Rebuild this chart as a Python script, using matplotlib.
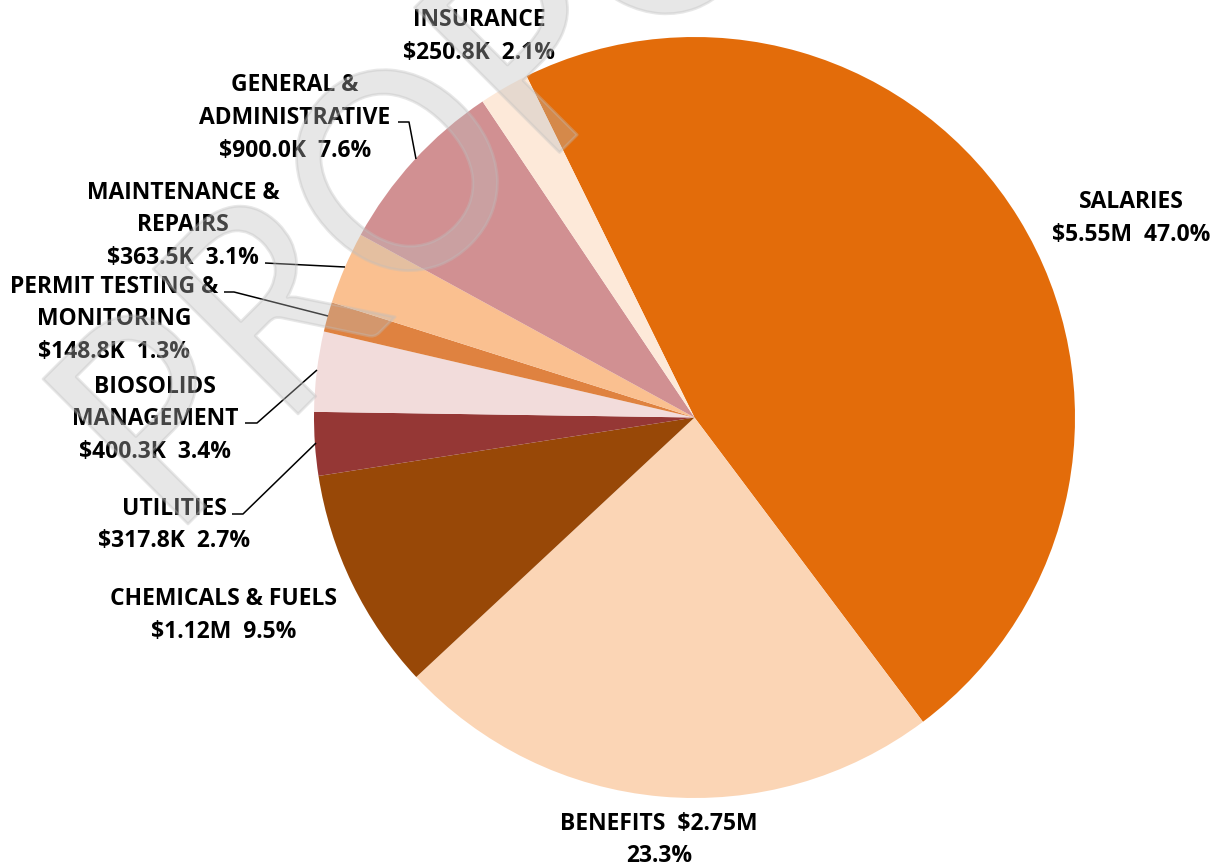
import matplotlib
matplotlib.use("Agg")
import matplotlib.pyplot as plt
from matplotlib import font_manager as fm
from matplotlib.textpath import TextPath
from matplotlib.patches import PathPatch
from matplotlib.font_manager import FontProperties
from matplotlib.transforms import Affine2D

# ---------------- data ----------------
categories = ["SALARIES", "BENEFITS", "CHEMICALS & FUELS", "UTILITIES",
              "BIOSOLIDS MANAGEMENT", "PERMIT TESTING & MONITORING",
              "MAINTENANCE & REPAIRS", "GENERAL & ADMINISTRATIVE", "INSURANCE"]
values_k = [5550.0, 2750.0, 1120.0, 317.8, 400.3, 148.8, 363.5, 900.0, 250.8]
amount_labels = ["$5.55M", "$2.75M", "$1.12M", "$317.8K", "$400.3K",
                 "$148.8K", "$363.5K", "$900.0K", "$250.8K"]
pct_labels = ["47.0%", "23.3%", "9.5%", "2.7%", "3.4%", "1.3%", "3.1%", "7.6%", "2.1%"]

# display wrapping of each label
label_texts = [
    "SALARIES\n{a}  {p}",
    "BENEFITS  {a}\n{p}",
    "CHEMICALS & FUELS\n{a}  {p}",
    "UTILITIES\n{a}  {p}",
    "BIOSOLIDS\nMANAGEMENT\n{a}  {p}",
    "PERMIT TESTING &\nMONITORING\n{a}  {p}",
    "MAINTENANCE &\nREPAIRS\n{a}  {p}",
    "GENERAL &\nADMINISTRATIVE\n{a}  {p}",
    "INSURANCE\n{a}  {p}",
]

colors = ["#E36C0A", "#FBD5B5", "#984807", "#953735", "#F2DCDB",
          "#DF8240", "#FAC090", "#D19092", "#FDE9D9"]

watermark = "PROPOSED"

# label anchor: x centre, y of first line centre (pixels from top)
label_pos = [(1131.5, 200), (659, 821.5), (224, 597), (174.5, 506.5),
             (155, 384.5), (114, 284.5), (183, 190.5), (295, 83), (479, 18)]
line_step = 32.7

# leader lines (pixels, y from top)
leaders = {
    7: [(398, 122), (409, 122), (416, 159)],
    6: [(265, 263), (345, 267)],
    5: [(224, 292), (234, 292), (328, 316)],
    4: [(245, 423), (257, 423), (317, 370)],
    3: [(232, 514), (243, 514), (316, 443)],
}


def pick(cands, bold):
    for name in cands:
        for f in fm.fontManager.ttflist:
            w = f.weight
            if isinstance(w, str):
                isb = w in ("bold", "heavy", "black", "semibold", "demibold")
            else:
                isb = w >= 600
            if f.name == name and (isb == bold):
                return name
    return "DejaVu Sans"


FAM = pick(["Open Sans", "Liberation Sans", "Roboto"], True)
fp_bold = FontProperties(family=FAM, weight="bold")
WM_FAM = pick(["Lato", "Open Sans", "Noto Sans"], False)
fp_wm = FontProperties(family=WM_FAM, weight="normal")

W, H = 1225, 867
fig = plt.figure(figsize=(W / 100, H / 100), dpi=100)
ax = fig.add_axes([0, 0, 1, 1])

cx, cy, R = 694.5, H - 417.5, 380.5
ax.pie(values_k, colors=colors, startangle=116.2, counterclock=False,
       center=(cx, cy), radius=R, wedgeprops=dict(linewidth=0))
ax.set_xlim(0, W)
ax.set_ylim(0, H)
ax.axis("off")

# font size so that "ADMINISTRATIVE" is about 190 px wide
ref_w = TextPath((0, 0), "ADMINISTRATIVE", size=100, prop=fp_bold).get_extents().width
size_px = 190.0 / ref_w * 100
fs_pt = size_px * 72 / 100
cap_ratio = TextPath((0, 0), "H", size=100, prop=fp_bold).get_extents().height / 100
cap_here = cap_ratio * size_px

for i, tmpl in enumerate(label_texts):
    lines = tmpl.format(a=amount_labels[i], p=pct_labels[i]).split("\n")
    x, y0 = label_pos[i]
    for j, ln in enumerate(lines):
        yc = y0 + j * line_step
        ax.text(x, H - (yc + cap_here / 2), ln, ha="center", va="baseline",
                fontsize=fs_pt, family=FAM, fontweight="bold",
                color="black", zorder=5)

for k, pts in leaders.items():
    xs = [p[0] for p in pts]
    ys = [H - p[1] for p in pts]
    ax.plot(xs, ys, color="black", lw=1.1, zorder=4, solid_capstyle="butt")

# ---------------- watermark (filled, translucent) ----------------
wm_cap = 205.0
wm_size = wm_cap / (TextPath((0, 0), "P", size=100, prop=fp_wm).get_extents().height / 100)
tp = TextPath((0, 0), watermark, size=wm_size, prop=fp_wm)
extP = TextPath((0, 0), watermark[0], size=wm_size, prop=fp_wm).get_extents()
extPRO = TextPath((0, 0), watermark[:3], size=wm_size, prop=fp_wm).get_extents()
extO = TextPath((0, 0), watermark[2], size=wm_size, prop=fp_wm).get_extents()
o_centre = extPRO.x1 - extO.width / 2 - extP.x0
sx = 398.0 / o_centre
tr = (Affine2D().translate(-extP.x0, 0).scale(sx, 1)
      .rotate_deg(45).translate(188, H - 524))
path = tr.transform_path(tp)
wm_col = (0.745, 0.745, 0.745, 0.36)
ax.add_patch(PathPatch(path, facecolor=wm_col, edgecolor=wm_col, lw=2,
                       joinstyle="round", zorder=10))

fig.savefig("out.png", dpi=100)
